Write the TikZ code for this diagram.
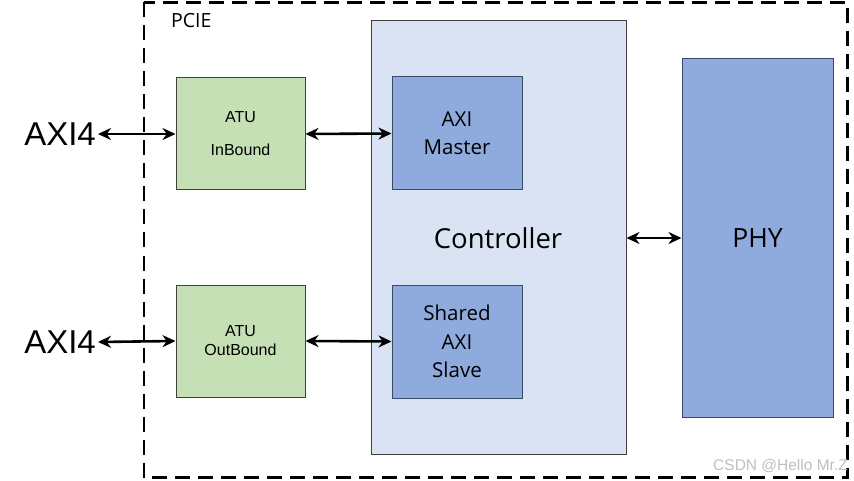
\documentclass[tikz,border=0pt]{standalone}
\usepackage{fontspec}
\setmainfont{Open Sans}
\newfontfamily\arialfont{Liberation Sans}
\usetikzlibrary{arrows.meta}
\definecolor{atugreen}{HTML}{C5E0B4}
\definecolor{ctrlblue}{HTML}{DAE3F3}
\definecolor{axiblue}{HTML}{8FAADC}
\definecolor{boxline}{HTML}{404040}
\definecolor{blueline}{HTML}{3B4A63}
\begin{document}
\begin{tikzpicture}[x=1pt,y=-1pt,
  atubox/.style={draw=boxline,line width=1pt,fill=atugreen,minimum width=129pt,minimum height=112pt,inner sep=0pt,align=center,font=\arialfont\fontsize{16}{19}\selectfont},
  axibox/.style={draw=blueline,line width=1pt,fill=axiblue,inner sep=0pt,align=center,font=\fontsize{20.5}{28.5}\selectfont},
  bidir/.style={line width=2.6pt,{Stealth[length=13pt,width=12pt]}-{Stealth[length=13pt,width=12pt]}},
  axilabel/.style={inner sep=0pt,anchor=east,font=\arialfont\fontsize{33}{38}\selectfont}
]
\useasboundingbox (0,0) rectangle (854,481);
\fill[white] (0,0) rectangle (854,481);
% outer dashed PCIE boundary
\draw[line width=2.6pt,dash pattern=on 15pt off 8pt] (144,2.5) rectangle (847.5,477.5);
\node[anchor=west,inner sep=0pt,font=\fontsize{19.5}{22}\selectfont] (pcie) at (171,21) {PCIE};
% controller
\node[draw=boxline,line width=1pt,fill=ctrlblue,minimum width=255pt,minimum height=433pt,inner sep=0pt] (ctrl) at (498.5,237.5) {};
\node[inner sep=0pt,font=\fontsize{27.5}{30}\selectfont] (ctrltext) at (498,238) {Controller};
% PHY
\node[draw=blueline,line width=1pt,fill=axiblue,minimum width=151pt,minimum height=358pt,inner sep=0pt,font=\fontsize{26.5}{30}\selectfont] (phy) at (757.5,238) {PHY};
% ATU boxes
\node[atubox] (ib) at (240.5,134) {ATU\\[14pt]InBound};
\node[atubox] (ob) at (240.5,341) {ATU\\OutBound};
% AXI boxes
\node[axibox,minimum width=130pt,minimum height=113pt] (am) at (457,133.5) {AXI\\Master};
\node[axibox,minimum width=130pt,minimum height=113pt] (as) at (457,341.5) {Shared\\AXI\\Slave};
% AXI4 labels
\node[axilabel] (axia) at (96,134) {AXI4};
\node[axilabel] (axib) at (96,342) {AXI4};
% connectors
\draw[bidir] (axia.east) ++(2,0) coordinate (ea) -- (ib.west);
\draw[bidir] (axib.east) ++(2,0) coordinate (eb) -- (ob.west);
\draw[bidir] (ib.east) -- (am.west);
\draw[bidir] (ob.east) -- (as.west);
\draw[bidir] (ctrl.east |- phy.west) -- (phy.west);
% watermark
\node[anchor=east,inner sep=0pt,text=black!25,font=\arialfont\fontsize{15.5}{17}\selectfont] (wm) at (848,466) {CSDN @Hello Mr.Z};
\end{tikzpicture}
\end{document}
